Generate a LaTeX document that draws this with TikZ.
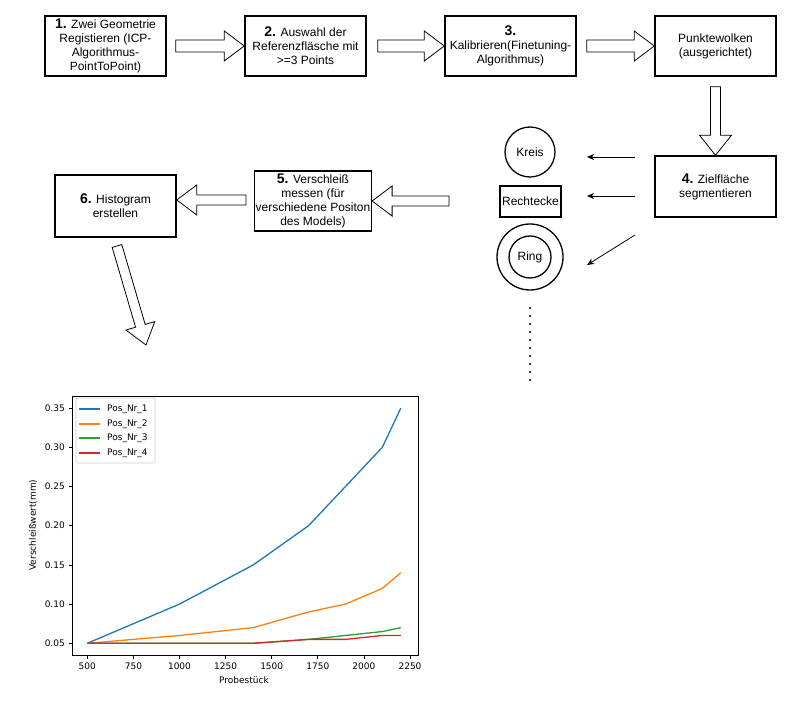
\documentclass[tikz,border=0pt]{standalone}
\usepackage{fontspec}
\setmainfont{Liberation Sans}
\newfontfamily\plotfont{DejaVu Sans}
\usetikzlibrary{calc,arrows.meta}
\definecolor{tabblue}{HTML}{1F77B4}
\definecolor{taborange}{HTML}{FF7F0E}
\definecolor{tabgreen}{HTML}{2CA02C}
\definecolor{tabred}{HTML}{D62728}
\newcommand\stepnum[1]{{\fontsize{14}{14}\selectfont\bfseries #1}}
\tikzset{
  flowbox/.style={draw, line width=1.5pt, align=center, inner sep=1pt,
    font=\fontsize{12}{14}\selectfont},
  shapebox/.style={draw, align=center, inner sep=1pt, font=\fontsize{12}{14}\selectfont},
  barrow/.style={draw=black, fill=white, line width=0.8pt, line join=miter},
  thinarrow/.style={draw, line width=0.8pt, -{Stealth[length=7pt,width=6pt,inset=2pt]}},
  ticklbl/.style={font=\plotfont\fontsize{9}{9}\selectfont, inner sep=0pt},
  plotline/.style={line width=1.3pt, line join=round}
}
\newcommand\blockarrow[4]{%
  \coordinate (ba-h) at ($(#2)!20pt!(#1)$);
  \path[barrow] ($(#1)!#3!90:(#2)$) -- ($(ba-h)!#3!90:(#2)$) -- ($(ba-h)!#4!90:(#2)$)
    -- (#2) -- ($(ba-h)!#4!-90:(#2)$) -- ($(ba-h)!#3!-90:(#2)$) -- ($(#1)!#3!-90:(#2)$) -- cycle;
}
\begin{document}
\begin{tikzpicture}[x=1pt,y=-1pt]
\useasboundingbox (0,0) rectangle (792,708);

% flow boxes
\node[flowbox, minimum width=121pt, minimum height=60pt] (b1) at (105.5,46)
  {\stepnum{1.} Zwei Geometrie\\Registieren (ICP-\\Algorithmus-\\PointToPoint)};
\node[flowbox, minimum width=121pt, minimum height=60pt] (b2) at (305.5,46)
  {\stepnum{2.} Auswahl der\\Referenzfläsche mit\\>=3 Points};
\node[flowbox, minimum width=131pt, minimum height=60pt] (b3) at (510.5,46)
  {\stepnum{3.}\\Kalibrieren(Finetuning-\\Algorithmus)};
\node[flowbox, minimum width=121pt, minimum height=60pt] (b4) at (715.5,46)
  {Punktewolken\\(ausgerichtet)};
\node[flowbox, minimum width=121pt, minimum height=61pt] (z) at (715.5,186.5)
  {\stepnum{4.} Zielfläche\\segmentieren};
\node[flowbox, minimum width=108pt, minimum height=60pt] (b5) at (313,201)
  {\stepnum{5.} Verschleiß\\messen (für\\verschiedene Positon\\des Models)};
\node[flowbox, minimum width=121pt, minimum height=62pt] (b6) at (115.5,206)
  {\stepnum{6.} Histogram\\erstellen};

% shapes
\node[shapebox, circle, line width=1.3pt, minimum size=50pt] (kreis) at (530,152) {Kreis};
\node[shapebox, line width=2pt, minimum width=61pt, minimum height=31pt] (rect) at (530.5,201.5) {Rechtecke};
\node[draw, circle, line width=1.3pt, minimum size=66pt] (ringo) at (530,257) {};
\node[shapebox, circle, line width=1.3pt, minimum size=42pt] (ringi) at (530,257) {Ring};

% block arrows
\coordinate (a12) at ($(b1.east)+(9,0)$);
\blockarrow{a12}{b2.west}{6pt}{15pt}
\coordinate (a23) at ($(b2.east)+(11,0)$);
\blockarrow{a23}{b3.west}{6pt}{15pt}
\coordinate (a34) at ($(b3.east)+(10,0)$);
\blockarrow{a34}{b4.west}{6pt}{15pt}
\coordinate (a4z) at ($(b4.south)+(0,10)$);
\blockarrow{a4z}{z.north}{5pt}{16pt}
\coordinate (az5) at (449,201);
\blockarrow{az5}{b5.east}{5pt}{15pt}
\coordinate (a56) at (246,200);
\coordinate (t6) at (b6.east |- a56);
\blockarrow{a56}{t6}{5pt}{15pt}
\coordinate (a6c) at (117,246);
\coordinate (hist) at (146,345);
\blockarrow{a6c}{hist}{5pt}{15pt}

% thin arrows
\coordinate (k1) at (635,157); \coordinate (k2) at (587,157);
\coordinate (r1) at (635,196); \coordinate (r2) at (587,196);
\coordinate (g1) at (635,235); \coordinate (g2) at (587,265);
\draw[thinarrow] (k1) -- (k2);
\draw[thinarrow] (r1) -- (r2);
\draw[thinarrow] (g1) -- (g2);

% dots
\foreach \i in {0,...,9} \fill (530,308+8*\i) circle (1.2);

% chart
\draw[line width=0.8pt] (72,396) rectangle (418,655);
\foreach \v in {500,750,...,2250} {
  \pgfmathsetmacro\px{87.3+(\v-500)*0.1844}
  \draw[line width=0.8pt] (\px,655) -- (\px,658.5);
  \node[ticklbl] at (\px,666) {\v};
}
\foreach \v/\t in {0.05/0.05,0.10/0.10,0.15/0.15,0.20/0.20,0.25/0.25,0.30/0.30,0.35/0.35} {
  \pgfmathsetmacro\py{643.3-(\v-0.05)*784}
  \draw[line width=0.8pt] (72,\py) -- (68.5,\py);
  \node[ticklbl, anchor=east] at (65,\py) {\t};
}
\node[ticklbl] at (244,680) {Probestück};
\node[ticklbl, rotate=90] at (33,525) {Verschleißwert(mm)};

\begin{scope}[shift={(-4.9,682.5)}, x={(0.1844pt,0pt)}, y={(0pt,784pt)}]
  \draw[plotline, tabblue] (500,0.05) -- (1000,0.10) -- (1400,0.15) -- (1700,0.20) -- (1900,0.25) -- (2100,0.30) -- (2200,0.35);
  \draw[plotline, taborange] (500,0.05) -- (1000,0.06) -- (1400,0.07) -- (1700,0.09) -- (1900,0.10) -- (2100,0.12) -- (2200,0.14);
  \draw[plotline, tabgreen] (500,0.05) -- (1000,0.05) -- (1400,0.05) -- (1700,0.055) -- (1900,0.06) -- (2100,0.065) -- (2200,0.07);
  \draw[plotline, tabred] (500,0.05) -- (1000,0.05) -- (1400,0.05) -- (1700,0.055) -- (1900,0.055) -- (2100,0.06) -- (2200,0.06);
\end{scope}

% legend
\draw[rounded corners=2pt, draw=black!20, fill=white, line width=0.6pt] (76,398) rectangle (155,463);
\foreach \c/\n/\yy in {tabblue/1/409, taborange/2/424, tabgreen/3/438, tabred/4/453} {
  \draw[plotline, \c] (79,\yy) -- (100,\yy);
  \node[ticklbl, anchor=west] at (107,\yy) {Pos\_Nr\_\n};
}
\end{tikzpicture}
\end{document}
